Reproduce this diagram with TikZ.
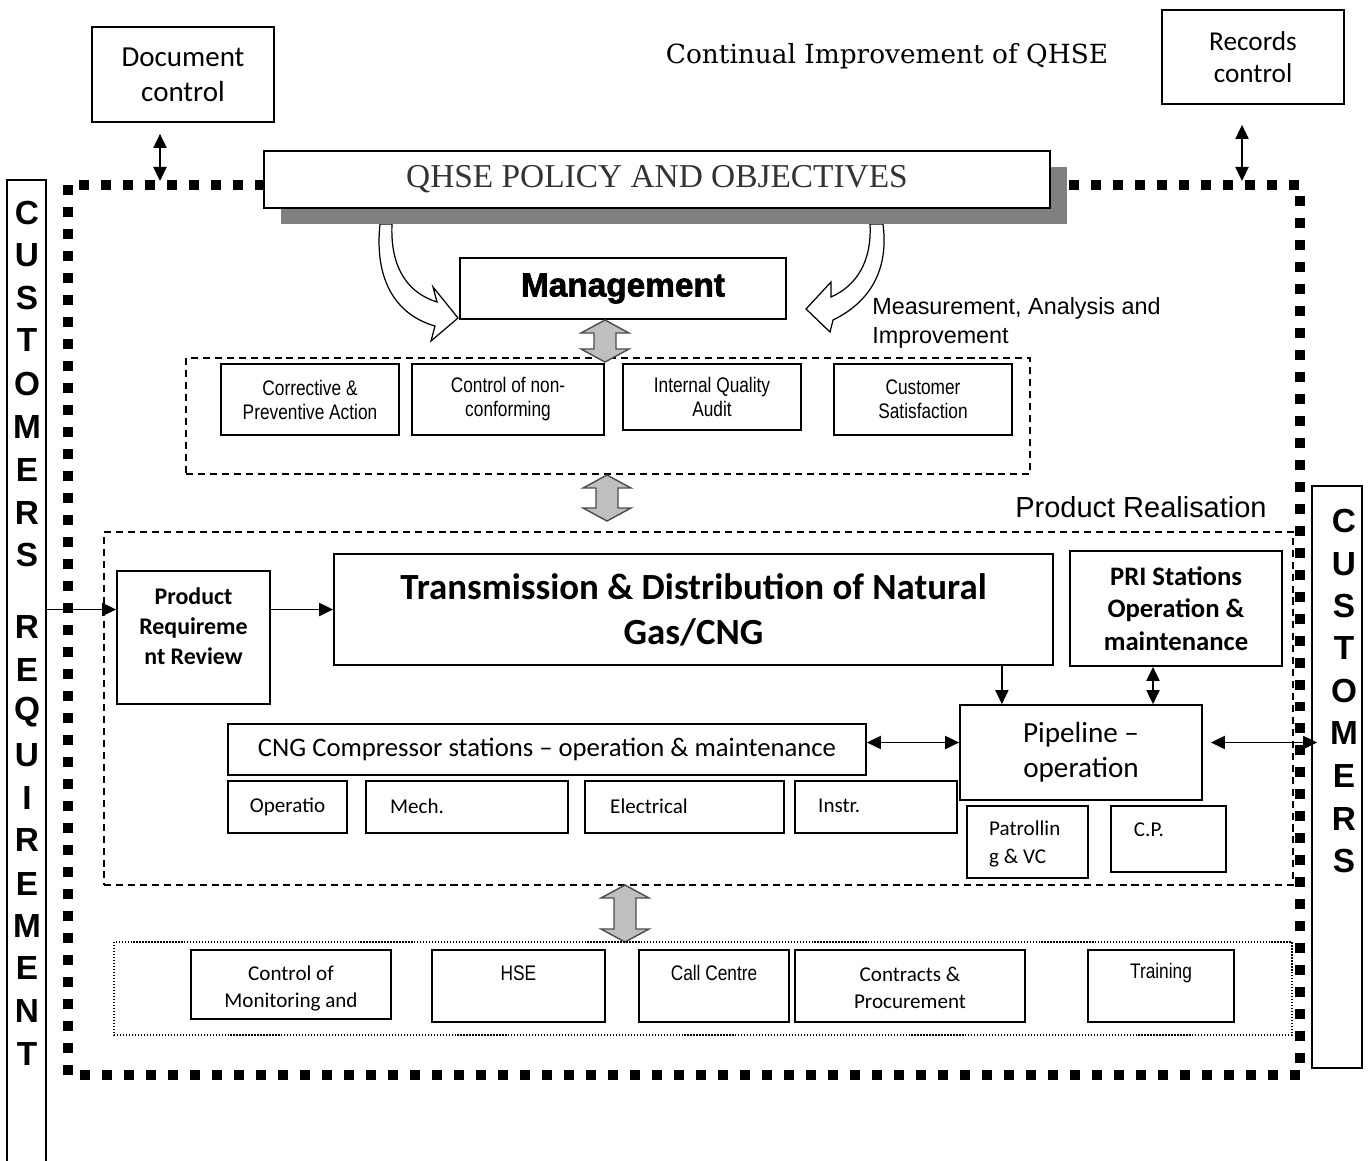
\documentclass[tikz,border=0pt]{standalone}
\usepackage{fontspec}
\setmainfont{Carlito}
\newfontfamily\arialfont{Liberation Sans}
\newfontfamily\narrowfont[FakeStretch=0.82]{Liberation Sans}
\newfontfamily\schoolfont{DejaVu Serif}
\newfontfamily\capsfont{Liberation Serif}
\newfontfamily\heavyfont[BoldFeatures={FakeBold=2}]{Liberation Sans}
\usepackage{tikz}
\usetikzlibrary{arrows.meta}
\usetikzlibrary{shadows}

\newcommand{\pxu}{0.02cm}
% gray up/down block arrow: centre x, top y, bottom y
\newcommand{\grayarrow}[3]{%
	\draw[blockarrow] (#1,#2) -- (#1+24,#2+13) -- (#1+11,#2+13) -- (#1+11,#3-13) -- (#1+24,#3-13)
		-- (#1,#3) -- (#1-24,#3-13) -- (#1-11,#3-13) -- (#1-11,#2+13) -- (#1-24,#2+13) -- cycle;}

\tikzset{
	sz/.style 2 args={minimum width=#1*\pxu, minimum height=#2*\pxu},
	box/.style={draw, line width=1pt, fill=white, inner sep=1pt, align=center},
	dashbox/.style={draw, line width=0.7pt, dash pattern=on 4pt off 2.8pt, inner sep=0pt},
	dotbox/.style={draw, line width=0.7pt, densely dotted, inner sep=0pt},
	conn/.style={line width=0.9pt},
	blockarrow/.style={draw=black!70, fill=black!25, line width=0.8pt},
	curvarrow/.style={draw, fill=white, line width=0.7pt},
	doctext/.style={font=\fontsize{16.5}{20}\selectfont},
	rectext/.style={font=\fontsize{15.5}{18.2}\selectfont},
	titletext/.style={font=\schoolfont\fontsize{15}{18}\selectfont},
	captext/.style={font=\capsfont\fontsize{19}{20}\selectfont, text=black!80},
	mgtext/.style={font=\heavyfont\bfseries\fontsize{19}{20}\selectfont},
	meastext/.style={font=\arialfont\fontsize{13.3}{16.5}\selectfont, align=left},
	narrowtext/.style={font=\narrowfont\fontsize{12}{13.7}\selectfont},
	prtext/.style={font=\arialfont\fontsize{16.5}{18}\selectfont},
	prrtext/.style={font=\bfseries\fontsize{13.6}{17}\selectfont, align=center},
	tdtext/.style={font=\bfseries\fontsize{21}{25.6}\selectfont},
	pritext/.style={font=\bfseries\fontsize{15.2}{18.5}\selectfont},
	pltext/.style={font=\fontsize{16.6}{20}\selectfont},
	cgtext/.style={font=\fontsize{15.2}{17}\selectfont},
	subtext/.style={font=\fontsize{12}{15.4}\selectfont, align=left},
	letter/.style={font=\arialfont\bfseries\fontsize{19}{20}\selectfont, inner sep=0pt},
}

\begin{document}
\begin{tikzpicture}[x=0.02cm, y=-0.02cm, >={Triangle[length=8pt,width=7.5pt]}]
	\useasboundingbox (0,0) rectangle (1368,1160);

	% outer frame
	\draw[line width=0.2cm, dash pattern=on 0.2cm off 0.24cm] (68,185) rectangle (1300,1075);

	% document / records control
	\node[box, sz={182}{95}, doctext] (dc) at (183,74.5) {Document\\control};
	\node[box, sz={182}{94}, rectext] (rc) at (1253,57) {Records\\control};
	\node[titletext] (ci) at (887,56) {Continual Improvement of QHSE};
	\coordinate (dcin) at (160,181);
	\coordinate (rcin) at (1242,181);
	\draw[<->, conn, shorten <=11*\pxu] (dc.south -| dcin) -- (dcin);
	\draw[<->, conn, shorten <=20*\pxu] (rc.south -| rcin) -- (rcin);

	% policy and management
	\draw[curvarrow] (392,224) .. controls (390,268) and (408,293) .. (437,302) -- (433,287) -- (458,318)
		-- (431,341) -- (435,326) .. controls (396,315) and (374,280) .. (380,224) -- cycle;
	\draw[curvarrow] (870,224) .. controls (872,262) and (856,286) .. (831,297) -- (831,282) -- (806,309)
		-- (830,332) -- (833,320) .. controls (870,302) and (889,270) .. (883,224) -- cycle;
	\node[box, sz={786}{57}, captext, drop shadow={shadow xshift=0.34cm, shadow yshift=-0.32cm, fill=black!50, opacity=1}] (pol) at (657,179.5) {QHSE POLICY AND OBJECTIVES};
	\node[box, sz={326}{61}, mgtext] (mg) at (623,288.5) {Management};
	\node[meastext, anchor=west, inner sep=0pt] (mai) at (872,323) {Measurement, Analysis and\\Improvement};

	% measurement, analysis and improvement
	\node[dashbox, sz={844}{116}] (ma) at (608,416) {};
	\node[box, sz={178}{71}, narrowtext] (ca) at (310,399.5) {Corrective \&\\Preventive Action};
	\node[box, sz={192}{71}, narrowtext] (nc) at (508,399.5) {Control of non-\\conforming};
	\node[box, sz={178}{66}, narrowtext] (ia) at (712,397) {Internal Quality\\Audit};
	\node[box, sz={178}{71}, narrowtext] (cs) at (923,399.5) {Customer\\Satisfaction};
	\grayarrow{605}{320}{362}
	\grayarrow{607}{475}{521}

	% product realisation
	\node[prtext, anchor=east, inner sep=0pt] (prl) at (1267,507) {Product Realisation};
	\node[dashbox, sz={1189}{353}] (pr) at (698.5,708.5) {};
	\node[box, sz={153}{133}] (prr) at (193.5,637.5) {};
	\node[prrtext] (prrt) at (193.5,626) {Product\\Requireme\\nt Review};
	\node[box, sz={719}{111}, tdtext] (td) at (693.5,609.5) {Transmission \& Distribution of Natural\\Gas/CNG};
	\node[box, sz={212}{115}, pritext] (pri) at (1176,608.5) {PRI Stations\\Operation \&\\maintenance};
	\node[box, sz={242}{95}, pltext] (pl) at (1081,752.5) {Pipeline --\\operation};
	\node[box, sz={638}{51}, cgtext] (cg) at (547,749.5) {CNG Compressor stations -- operation \& maintenance};
	\node[box, sz={119}{52}, subtext] (op) at (287.5,807) {Operatio};
	\node[box, sz={202}{52}] (me) at (467,807) {};
	\node[box, sz={199}{52}] (el) at (684.5,807) {};
	\node[box, sz={162}{52}] (in) at (876,807) {};
	\node[subtext, anchor=west] (met) at (384,806) {Mech.};
	\node[subtext, anchor=west] (elt) at (604,806) {Electrical};
	\node[subtext, anchor=west] (int) at (812,806) {Instr.};
	\node[box, sz={121}{72}] (pa) at (1027.5,842) {};
	\node[box, sz={115}{66}] (cp) at (1168.5,839) {};
	\node[subtext, anchor=west] (pat) at (983,844) {Patrollin\\g \& VC};
	\node[subtext] (cpt) at (1149,830) {C.P.};
	\grayarrow{625}{885}{942}

	% support processes
	\node[dotbox, sz={1178}{93}] (sp) at (703,988.5) {};
	\node[box, sz={200}{69}] (cm) at (291,984.5) {};
	\node[box, sz={173}{72}] (hs) at (518.5,986) {};
	\node[box, sz={150}{72}] (cc) at (714,986) {};
	\node[box, sz={230}{72}] (cn) at (910,986) {};
	\node[box, sz={146}{72}] (tr) at (1161,986) {};
	\node[subtext, align=center] (cmt) at (291,988) {Control of\\Monitoring and};
	\node[subtext, align=center] (cnt) at (910,988) {Contracts \&\\Procurement};
	\node[narrowtext] (hst) at (518.5,973) {HSE};
	\node[narrowtext] (cct) at (714,973) {Call Centre};
	\node[narrowtext] (trt) at (1161,973) {Training};

	% customers
	\node[box, sz={39}{990}] (cr) at (26.5,675) {};
	\foreach \l/\y [count=\i] in {C/213,U/255,S/298,T/340,O/384,M/427,E/470,R/513,S/555,R/627,E/670,Q/712,U/755,I/798,R/840,E/884,M/926,E/968,N/1011,T/1054} {
		\node[letter] (L\i) at (27,\y) {\l};
	}
	\node[box, sz={50}{582}] (cu) at (1337,777) {};
	\foreach \l/\y [count=\i] in {C/521,U/564,S/606,T/648,O/691,M/733,E/776,R/819,S/861} {
		\node[letter] (R\i) at (1344,\y) {\l};
	}

	% connectors
	\draw[->, conn] (cr.east |- td.west) -- (prr.west |- td.west);
	\draw[->, conn] (prr.east |- td.west) -- (td.west);
	\coordinate (tdp) at ([xshift=-52*\pxu]td.south east);
	\draw[->, conn] (tdp) -- (tdp |- pl.north);
	\coordinate (prb) at ([xshift=-23*\pxu]pri.south);
	\draw[<->, conn] (prb) -- (prb |- pl.north);
	\coordinate (cgr) at ([yshift=7*\pxu]cg.east);
	\draw[<->, conn] (cgr) -- (cgr -| pl.west);
	\coordinate (plr) at ([yshift=10*\pxu]pl.east);
	\draw[<->, conn, shorten <=8*\pxu, shorten >=-6*\pxu] (plr) -- (plr -| cu.west);
\end{tikzpicture}
\end{document}
